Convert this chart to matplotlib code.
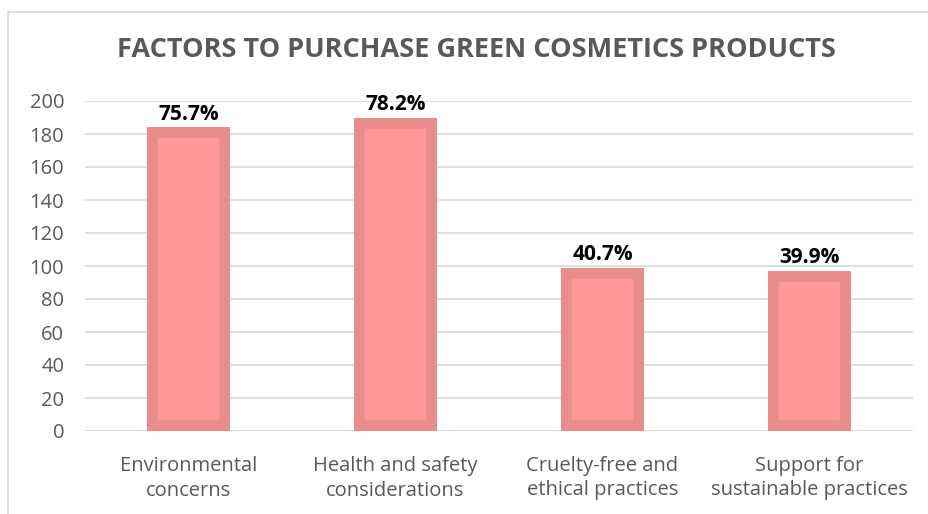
import matplotlib
matplotlib.use("Agg")
import matplotlib.pyplot as plt
from matplotlib.lines import Line2D

categories = ["Environmental\nconcerns", "Health and safety\nconsiderations",
              "Cruelty-free and\nethical practices", "Support for\nsustainable practices"]
values = [184, 190, 99, 97]
pct_labels = ["75.7%", "78.2%", "40.7%", "39.9%"]
yticks = [0, 20, 40, 60, 80, 100, 120, 140, 160, 180, 200]

plt.rcParams['font.family'] = ['Open Sans', 'DejaVu Sans']

W, H = 929, 514
fig = plt.figure(figsize=(W/100, H/100), dpi=100)
ax = fig.add_axes([85/W, 1 - 431/H, (913-85)/W, (431-101)/H])

x = list(range(len(categories)))
bars = ax.bar(x, values, width=0.4, color="#FF9999", edgecolor="#E88C8C",
              linewidth=15.5, zorder=3)
for b in bars:
    b.set_clip_path(b)

for xi, v, lab in zip(x, values, pct_labels):
    ax.annotate(lab, (xi, v), xytext=(0, 2), textcoords="offset points",
                ha="center", va="bottom", fontsize=15, fontweight="bold",
                color="black")

ax.set_xlim(-0.5, len(categories) - 0.5)
ax.set_ylim(0, 200)
ax.set_yticks(yticks)
ax.set_xticks(x)
ax.set_xticklabels(categories, fontsize=14.5, color="#595959", linespacing=1.3)
ax.tick_params(axis='y', labelsize=14.5, labelcolor="#595959", length=0, pad=15)
ax.tick_params(axis='x', length=0, pad=18)
ax.grid(axis='y', color="#D9D9D9", linewidth=1.2, zorder=0)
for s in ax.spines.values():
    s.set_visible(False)
ax.axhline(0, color="#D9D9D9", linewidth=1.2, zorder=1)

fig.text(476/W, 1 - 50/H, "FACTORS TO PURCHASE GREEN COSMETICS PRODUCTS",
         ha="center", va="center", fontsize=19.5, fontweight="bold", color="#595959")

fig.add_artist(Line2D([8/W, 8/W], [0, 1 - 12/H], transform=fig.transFigure,
                      color="#D9D9D9", linewidth=1.2))
fig.add_artist(Line2D([8/W, 1], [1 - 12/H, 1 - 12/H], transform=fig.transFigure,
                      color="#D9D9D9", linewidth=1.2))

fig.savefig("out.png", dpi=100, facecolor="white")
